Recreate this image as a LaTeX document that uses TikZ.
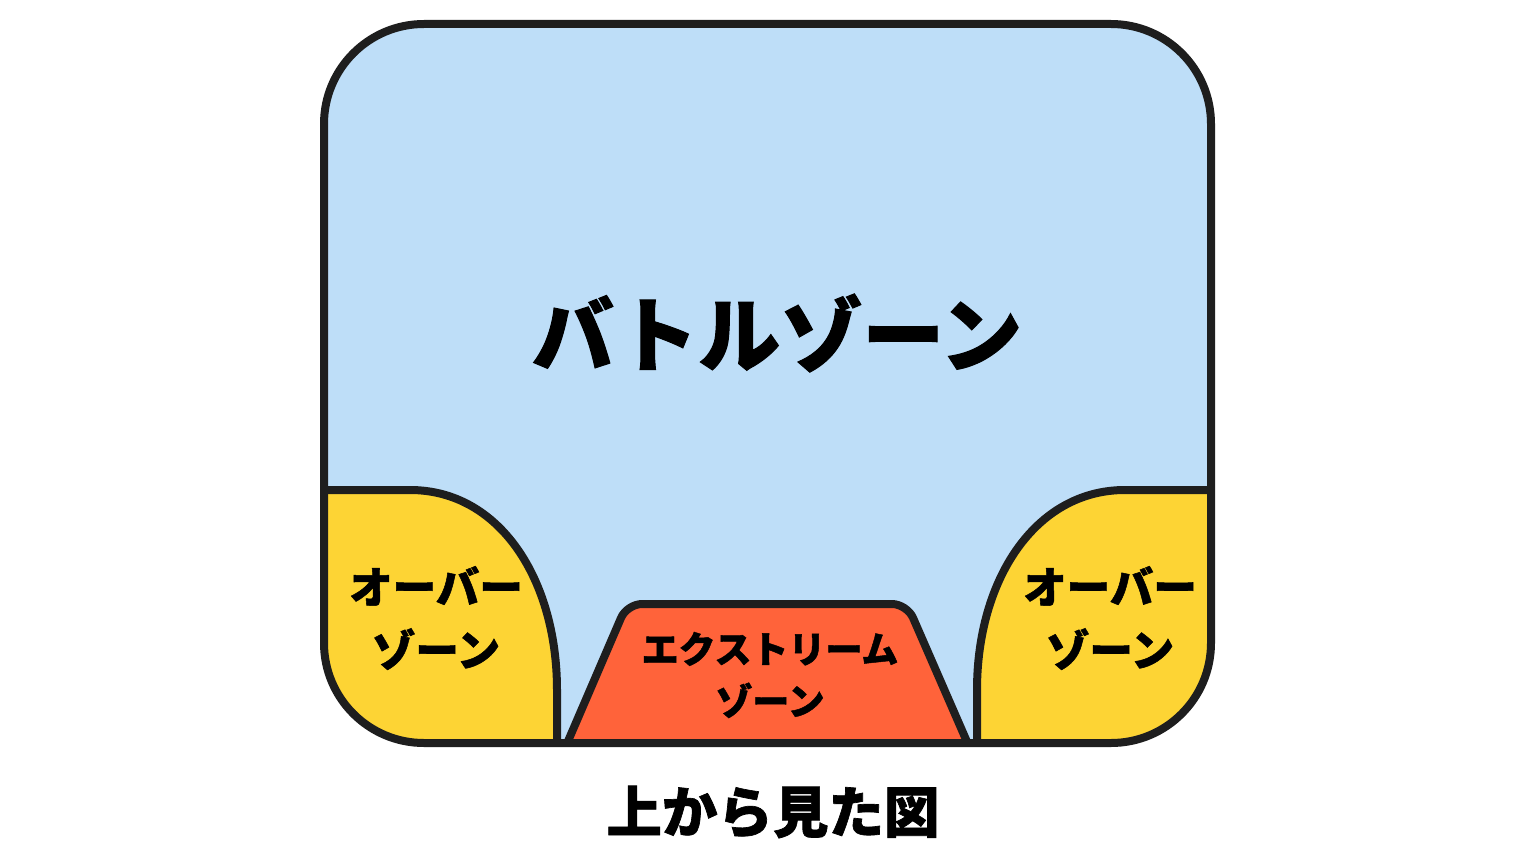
\documentclass[tikz,border=0pt]{standalone}
\usepackage{fontspec}
\newfontfamily\jp{Noto Sans CJK JP}[BoldFeatures={FakeBold=1.2}]
\definecolor{zblue}{RGB}{190,222,248}
\definecolor{zyellow}{RGB}{253,212,52}
\definecolor{zred}{RGB}{255,99,58}
\definecolor{zline}{RGB}{30,30,30}
\tikzset{
  zoneline/.style={draw=zline,line width=8pt,line join=round},
  zonetext/.style={font=\jp\bfseries,text=black,align=center,inner sep=0pt}
}
\begin{document}
\begin{tikzpicture}[x=1pt,y=-1pt]
\useasboundingbox (0,0) rectangle (1536,864);
\fill[white] (0,0) rectangle (1536,864);
% outer field
\fill[zblue,rounded corners=100] (324,24) rectangle (1211,743);
\begin{scope}
  \clip[rounded corners=100] (324,24) rectangle (1211,743);
  % left over zone
  \fill[zyellow] (300,490) -- (410,490) .. controls (500,490) and (557,580) .. (557,690) -- (557,760) -- (300,760) -- cycle;
  \draw[zoneline] (300,490) -- (410,490) .. controls (500,490) and (557,580) .. (557,690) -- (557,760);
  % right over zone
  \fill[zyellow] (1236,490) -- (1125,490) .. controls (1035,490) and (977,580) .. (977,690) -- (977,760) -- (1236,760) -- cycle;
  \draw[zoneline] (1236,490) -- (1125,490) .. controls (1035,490) and (977,580) .. (977,690) -- (977,760);
  % extreme zone
  \draw[zoneline,fill=zred,rounded corners=15] (547,790) -- (627,604) -- (907,604) -- (988,790) -- cycle;
\end{scope}
\draw[zoneline,rounded corners=100] (324,24) rectangle (1211,743);
% labels
\node[zonetext,font=\jp\bfseries\fontsize{82}{90}\selectfont] (battle) at (777,333) {バトルゾーン};
\node[zonetext,font=\jp\bfseries\fontsize{43.5}{63}\selectfont] (overL) at (436,618) {オーバー\\ゾーン};
\node[zonetext,font=\jp\bfseries\fontsize{43.5}{63}\selectfont] (overR) at (1110,618) {オーバー\\ゾーン};
\node[zonetext,font=\jp\bfseries\fontsize{37}{52}\selectfont] (extreme) at (770,675) {エクストリーム\\ゾーン};
\node[zonetext,font=\jp\bfseries\fontsize{55.5}{60}\selectfont] (caption) at (773,812) {上から見た図};
\end{tikzpicture}
\end{document}
